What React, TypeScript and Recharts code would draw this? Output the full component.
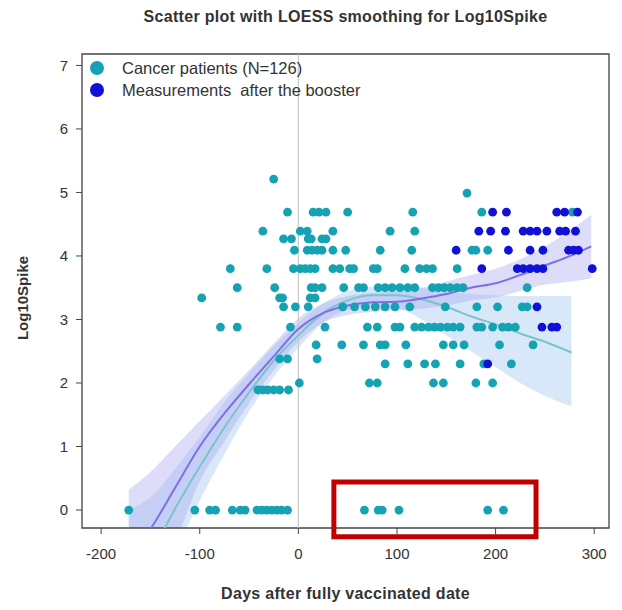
import React from 'react'
import {
  ComposedChart, Scatter, Line, Area, XAxis, YAxis,
  ReferenceLine, ReferenceArea,
} from 'recharts'

// discrete log10 titre levels seen in the plot
const levels = [5.21, 4.99, 4.69, 4.39, 4.27, 4.09, 3.8, 3.5, 3.34, 3.2, 2.88, 2.6, 2.38, 2.3, 2.0, 1.89, 0]

// days for each level, cancer patients
const cancerDays = [
  [-25],
  [171],
  [-11, 15, 21, 28, 50, 116, 186, 278],
  [-36, 2, 9, 35, 93, 118],
  [-15, -7, 10, 13, 24, 28],
  [-4, 9, 14, 19, 24, 35, 48, 83, 115, 176, 180, 192],
  [-69, -32, -5, 2, 7, 12, 17, 35, 42, 52, 56, 76, 80, 108, 123, 130, 136, 161],
  [-62, -24, 13, 17, 24, 46, 61, 66, 81, 88, 95, 103, 111, 118, 136, 142, 148, 154, 161, 167, 232],
  [-98, -19, -16, 12, 17],
  [-15, -3, 10, 45, 57, 68, 78, 88, 98, 113, 149, 181, 202, 227, 232],
  [-79, -62, -8, 27, 70, 80, 98, 103, 118, 125, 132, 138, 144, 151, 157, 164, 181, 186, 197, 207, 213, 220],
  [18, 44, 66, 83, 88, 109, 147, 157, 168, 204, 238],
  [-19, -11, 19],
  [88, 111, 128, 139, 164, 188, 216],
  [1, 72, 80, 137, 147, 180, 197],
  [-41, -36, -31, -25, -19, -10],
  [-172, -105, -90, -84, -67, -59, -54, -42, -37, -32, -27, -22, -17, -11, 67, 81, 85, 102, 192, 208],
]

// days for each level, measurements after the booster
const boosterDays = [
  [],
  [],
  [197, 211, 262, 270, 283],
  [183, 195, 210, 228, 235, 242, 252, 265, 271, 281],
  [],
  [160, 213, 235, 248, 274, 279, 284],
  [186, 222, 228, 235, 242, 248, 298],
  [],
  [],
  [242],
  [247, 257, 262],
  [],
  [],
  [192],
  [],
  [],
  [],
]

// LOESS fits and confidence bands
const curveDays = [-172, -150, -125, -100, -75, -50, -25, 0, 25, 50, 75, 100, 125, 150, 175, 200, 225, 250, 277, 297]
const allFit = [-0.75, -0.3, 0.35, 1.0, 1.52, 1.98, 2.42, 2.85, 3.1, 3.22, 3.27, 3.28, 3.33, 3.4, 3.5, 3.57, 3.7, 3.85, 4.01, 4.15]
const allLow = [-1.6, -1.15, -0.5, 0.45, 1.08, 1.68, 2.2, 2.65, 2.95, 3.07, 3.12, 3.14, 3.17, 3.22, 3.3, 3.35, 3.45, 3.55, 3.6, 3.65]
const allHigh = [0.32, 0.6, 1.0, 1.4, 1.8, 2.2, 2.62, 3.02, 3.25, 3.37, 3.42, 3.45, 3.5, 3.6, 3.7, 3.8, 3.95, 4.15, 4.42, 4.65]
const cancerFit = [-1.4, -0.72, 0.02, 0.68, 1.3, 1.85, 2.35, 2.75, 3.1, 3.3, 3.38, 3.38, 3.32, 3.2, 3.05, 2.92, 2.78, 2.65, 2.48, null]
const cancerLow = [-2.5, -1.6, -0.7, 0.15, 0.88, 1.55, 2.1, 2.55, 2.95, 3.15, 3.22, 3.18, 3.0, 2.75, 2.5, 2.25, 2.0, 1.8, 1.63, null]
const cancerHigh = [0.0, 0.2, 0.65, 1.15, 1.7, 2.15, 2.58, 2.95, 3.25, 3.45, 3.52, 3.55, 3.5, 3.45, 3.4, 3.38, 3.37, 3.37, 3.37, null]

const xTicks = [-200, -100, 0, 100, 200, 300]
const yTicks = [0, 1, 2, 3, 4, 5, 6, 7]
const xDomain = [-219.4, 315]
const yDomain = [-0.283, 7.18]
const highlightDays = [36, 241]
const highlightLog = [-0.42, 0.44]

const TEAL = '#15a2b3'
const BLUE = '#1010d8'
const FONT = '"Liberation Sans", Arial, sans-serif'

const legendItems = [
  { label: 'Cancer patients (N=126)', color: TEAL },
  { label: 'Measurements  after the booster', color: BLUE },
]

const toPoints = (rows: number[][]) =>
  rows.flatMap((days, i) => days.map((d) => ({ day: d, v: levels[i] })))

const cancerPoints = toPoints(cancerDays)
const boosterPoints = toPoints(boosterDays)

const curveData = curveDays.map((d, i) => ({
  day: d,
  allFit: allFit[i],
  allBand: [allLow[i], allHigh[i]],
  cancerFit: cancerFit[i],
  cancerBand: cancerLow[i] == null ? null : [cancerLow[i], cancerHigh[i]],
}))

const dot = (color: string) => (props: any) =>
  <circle cx={props.cx} cy={props.cy} r={4.4} fill={color} />

export default function App() {
  return (
    <div style={{ position: 'absolute', left: 0, top: 0, width: 622, height: 610, background: '#fff', fontFamily: FONT }}>
      <div style={{ position: 'absolute', left: 82, width: 527, top: 8, textAlign: 'center', fontSize: 16, letterSpacing: 0.3, fontWeight: 700, color: '#333' }}>
        Scatter plot with LOESS smoothing for Log10Spike
      </div>
      <ComposedChart
        width={622}
        height={610}
        data={curveData}
        margin={{ top: 54, right: 13, bottom: 52, left: 32 }}
      >
        <XAxis
          type="number"
          dataKey="day"
          domain={xDomain}
          allowDataOverflow
          ticks={xTicks}
          tickSize={6}
          tickMargin={14}
          axisLine={false}
          tickLine={{ stroke: '#444' }}
          tick={{ fontSize: 15, fill: '#333', fontFamily: FONT }}
          height={30}
        />
        <YAxis
          type="number"
          domain={yDomain}
          allowDataOverflow
          ticks={yTicks}
          tickSize={6}
          tickMargin={8}
          axisLine={false}
          tickLine={{ stroke: '#444' }}
          tick={{ fontSize: 15, fill: '#333', fontFamily: FONT }}
          width={50}
        />
        <ReferenceLine x={0} stroke="#c8c8c8" strokeWidth={1.2} />
        <Scatter data={cancerPoints} dataKey="v" shape={dot(TEAL)} isAnimationActive={false} />
        <Scatter data={boosterPoints} dataKey="v" shape={dot(BLUE)} isAnimationActive={false} />
        <Area
          dataKey="cancerBand"
          type="monotone"
          stroke="none"
          fill="#a8cdf2"
          fillOpacity={0.45}
          isAnimationActive={false}
        />
        <Area
          dataKey="allBand"
          type="monotone"
          stroke="none"
          fill="#a9a9f2"
          fillOpacity={0.4}
          isAnimationActive={false}
        />
        <Line dataKey="cancerFit" type="monotone" stroke="#78c4cd" strokeWidth={2} dot={false} isAnimationActive={false} />
        <Line dataKey="allFit" type="monotone" stroke="#7f6fe6" strokeWidth={2} dot={false} isAnimationActive={false} />
        <ReferenceArea
          x1={xDomain[0]}
          x2={xDomain[1]}
          y1={yDomain[0]}
          y2={yDomain[1]}
          fill="none"
          stroke="#444"
          strokeWidth={1.3}
          fillOpacity={0}
        />
        <ReferenceArea
          x1={highlightDays[0]}
          x2={highlightDays[1]}
          y1={highlightLog[0]}
          y2={highlightLog[1]}
          ifOverflow="visible"
          fill="none"
          fillOpacity={0}
          stroke="#c00000"
          strokeWidth={5}
        />
      </ComposedChart>
      <div style={{ position: 'absolute', top: 57, left: 90, fontSize: 16.5, color: '#333' }}>
        {legendItems.map((item) => (
          <div key={item.label} style={{ display: 'flex', alignItems: 'center', height: 22 }}>
            <span style={{ width: 14, height: 14, borderRadius: '50%', background: item.color, marginRight: 18, flex: 'none' }} />
            <span style={{ whiteSpace: 'pre' }}>{item.label}</span>
          </div>
        ))}
      </div>
      <div style={{ position: 'absolute', left: 82, width: 527, top: 585, textAlign: 'center', fontSize: 16, letterSpacing: 0.3, fontWeight: 700, color: '#333' }}>
        Days after fully vaccinated date
      </div>
      <div style={{ position: 'absolute', left: 22, top: 298, transform: 'translate(-50%, -50%) rotate(-90deg)', fontSize: 15, fontWeight: 700, color: '#333', whiteSpace: 'nowrap' }}>
        Log10Spike
      </div>
    </div>
  )
}
